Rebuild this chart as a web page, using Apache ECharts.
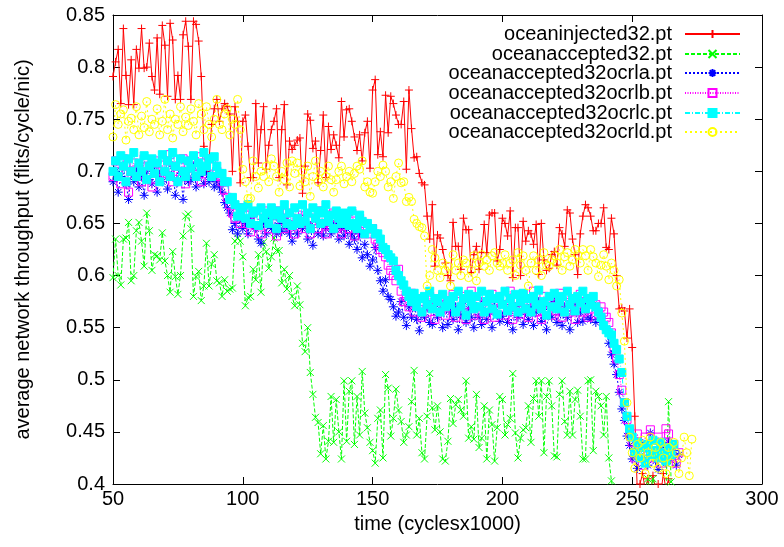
<!DOCTYPE html>
<html><head><meta charset="utf-8">
<script src="https://cdn.jsdelivr.net/npm/echarts@6/dist/echarts.min.js"></script>
<style>html,body{margin:0;padding:0;background:#fff}#c{width:784px;height:547px}</style>
</head><body><div id="c"></div>
<script>
const T0 = 50; // first sample time (x1000 cycles), one sample per 1000 cycles
const seriesNames = ['oceaninjected32.pt','oceanaccepted32.pt','oceanaccepted32ocrla.pt','oceanaccepted32ocrlb.pt','oceanaccepted32ocrlc.pt','oceanaccepted32ocrld.pt'];
const xTicks = [50,100,150,200,250,300];
const yTicks = [0.4,0.45,0.5,0.55,0.6,0.65,0.7,0.75,0.8,0.85];

const injected = [
.791,.805,.817,.765,.837,.792,.764,.807,.764,.817,
.799,.837,.799,.800,.823,.791,.778,.828,.774,.840,
.821,.772,.842,.826,.769,.792,.769,.831,.844,.820,
.769,.844,.841,.825,.791,.724,.700,.711,.745,.760,
.769,.748,.760,.765,.762,.755,.700,.762,.748,.689,
.748,.754,.724,.694,.694,.765,.708,.740,.762,.702,
.725,.740,.748,.760,.694,.740,.764,.687,.729,.721,
.725,.730,.732,.679,.705,.755,.749,.722,.729,.689,
.720,.754,.694,.743,.721,.735,.725,.713,.767,.733,
.759,.760,.748,.733,.720,.735,.710,.737,.748,.703,
.778,.788,.716,.738,.714,.773,.737,.772,.765,.754,
.745,.745,.767,.702,.778,.741,.713,.714,.698,.689,
.687,.657,.635,.668,.609,.639,.636,.625,.612,.600,
.595,.651,.628,.628,.606,.655,.644,.644,.603,.620,
.628,.606,.622,.649,.622,.658,.660,.660,.614,.625,
.655,.650,.638,.662,.598,.646,.646,.600,.652,.633,
.643,.640,.630,.649,.601,.650,.615,.605,.607,.620,
.623,.610,.646,.640,.628,.663,.660,.635,.620,.601,
.640,.657,.668,.665,.657,.643,.643,.650,.650,.665,
.627,.625,.655,.640,.600,.568,.569,.566,.540,.568,
.531,.465,.390,.400,.410,.395,.405,.390,.408,.395,
.400,.390,.410,.395,.405,.390];

const accepted = [
.598,.635,.600,.591,.635,.636,.651,.595,.600,.643,
.651,.633,.609,.660,.643,.605,.620,.619,.615,.641,
.614,.600,.584,.623,.599,.582,.600,.638,.657,.659,
.645,.580,.599,.604,.576,.590,.631,.590,.611,.620,
.595,.593,.580,.596,.585,.587,.588,.633,.636,.633,
.618,.571,.579,.580,.606,.596,.620,.584,.632,.623,
.607,.618,.636,.624,.624,.593,.606,.587,.600,.580,
.571,.590,.572,.535,.527,.550,.507,.486,.464,.459,
.429,.456,.424,.441,.484,.440,.481,.450,.424,.499,
.441,.489,.499,.438,.484,.447,.508,.468,.454,.440,
.432,.420,.463,.471,.425,.505,.492,.446,.463,.491,
.471,.460,.440,.447,.455,.479,.509,.447,.463,.430,
.424,.465,.506,.473,.452,.475,.450,.424,.422,.441,
.482,.458,.476,.481,.471,.465,.499,.444,.455,.443,
.486,.435,.444,.475,.424,.471,.457,.422,.454,.484,
.481,.447,.457,.463,.506,.449,.425,.444,.452,.454,
.475,.440,.482,.499,.465,.499,.430,.484,.499,.475,
.427,.426,.486,.499,.460,.447,.489,.447,.481,.490,
.465,.424,.424,.499,.500,.432,.489,.484,.475,.447,
.484,.425,.403,.390,.385,.395,.390,.385,.390,.385,
.395,.390,.385,.395,.392,.390,.405,.392,.405,.395,
.390,.398,.392,.390,.479,.402,.390];

const ocrla = [
.690,.700,.680,.695,.705,.688,.673,.698,.690,.700,
.685,.695,.677,.700,.692,.688,.705,.680,.697,.690,
.700,.683,.695,.705,.677,.690,.698,.673,.700,.690,
.692,.705,.685,.695,.700,.688,.698,.690,.695,.685,
.690,.685,.680,.670,.665,.660,.644,.650,.640,.655,
.645,.650,.640,.655,.660,.645,.635,.631,.650,.640,
.655,.645,.660,.640,.650,.642,.655,.645,.640,.633,
.650,.640,.655,.645,.650,.635,.648,.629,.655,.640,
.650,.638,.645,.655,.640,.648,.650,.635,.645,.638,
.645,.630,.640,.635,.625,.640,.617,.630,.620,.609,
.615,.627,.605,.595,.585,.596,.580,.577,.570,.561,
.565,.575,.560,.552,.570,.560,.575,.558,.547,.565,
.560,.570,.555,.553,.575,.560,.568,.550,.572,.553,
.565,.558,.570,.548,.562,.575,.555,.568,.560,.550,
.570,.560,.553,.575,.558,.565,.550,.570,.562,.556,
.561,.572,.555,.566,.548,.570,.560,.575,.553,.565,
.558,.570,.552,.565,.575,.556,.562,.548,.570,.560,
.575,.555,.565,.552,.570,.560,.548,.566,.572,.555,
.565,.556,.570,.560,.558,.572,.555,.565,.560,.552,
.548,.535,.524,.515,.505,.488,.472,.461,.446,.437,
.424,.432,.415,.440,.425,.436,.418,.449,.430,.422,
.414,.435,.428,.420,.440,.425,.432,.418,.428];

const ocrlb = [
.695,.710,.700,.688,.712,.705,.680,.700,.708,.695,
.703,.690,.712,.698,.705,.685,.710,.700,.693,.706,
.698,.710,.716,.690,.705,.700,.695,.712,.688,.703,
.710,.697,.705,.714,.690,.708,.700,.712,.695,.705,
.700,.695,.690,.682,.675,.668,.660,.655,.662,.650,
.665,.650,.658,.642,.660,.648,.655,.640,.662,.652,
.645,.660,.650,.638,.662,.655,.645,.660,.648,.655,
.640,.658,.650,.662,.645,.655,.640,.660,.650,.645,
.662,.650,.640,.658,.648,.660,.645,.652,.640,.655,
.650,.645,.660,.638,.648,.655,.640,.650,.645,.640,
.645,.635,.630,.625,.622,.618,.610,.605,.600,.595,
.606,.585,.575,.580,.570,.583,.565,.578,.572,.560,
.575,.565,.580,.570,.558,.576,.568,.580,.562,.573,
.570,.582,.560,.575,.565,.580,.558,.572,.585,.562,
.575,.565,.580,.558,.572,.568,.582,.560,.575,.566,
.580,.562,.572,.585,.558,.570,.578,.563,.582,.568,
.560,.575,.585,.565,.572,.558,.580,.568,.575,.562,
.578,.566,.583,.560,.572,.580,.565,.575,.558,.570,
.582,.565,.575,.560,.578,.568,.572,.563,.570,.565,
.560,.555,.545,.530,.520,.505,.490,.478,.462,.450,
.440,.425,.448,.430,.418,.445,.435,.452,.425,.438,
.445,.420,.440,.453,.448,.425,.438,.420,.430];

const ocrlc = [
.700,.710,.695,.715,.705,.690,.712,.700,.718,.695,
.708,.700,.715,.692,.705,.712,.698,.708,.690,.716,
.700,.710,.695,.718,.705,.690,.712,.700,.695,.710,
.703,.715,.695,.708,.700,.718,.705,.712,.695,.714,
.705,.698,.698,.690,.690,.673,.675,.668,.657,.660,
.665,.655,.668,.650,.660,.662,.648,.665,.655,.660,
.650,.665,.658,.645,.662,.655,.668,.650,.660,.648,
.665,.655,.650,.668,.652,.660,.645,.665,.655,.662,
.650,.660,.668,.652,.658,.645,.662,.655,.650,.660,
.655,.648,.662,.650,.645,.658,.652,.640,.650,.645,
.645,.640,.640,.635,.627,.625,.620,.617,.614,.605,
.600,.595,.591,.585,.580,.575,.583,.570,.578,.565,
.580,.572,.585,.568,.578,.575,.565,.582,.570,.576,
.572,.580,.565,.585,.570,.578,.562,.582,.575,.568,
.580,.570,.585,.565,.575,.582,.568,.578,.563,.580,
.572,.585,.566,.578,.570,.582,.565,.575,.583,.568,
.578,.565,.580,.572,.586,.568,.575,.562,.580,.570,
.583,.568,.575,.580,.565,.585,.572,.578,.566,.580,
.574,.585,.568,.578,.572,.580,.570,.565,.560,.552,
.548,.545,.543,.535,.529,.520,.507,.478,.465,.453,
.445,.430,.440,.425,.435,.420,.438,.428,.442,.432,
.425,.440,.430,.422,.435,.428,.438];

const ocrld = [
.733,.764,.745,.755,.759,.730,.748,.751,.740,.762,
.735,.753,.742,.767,.738,.750,.745,.760,.735,.748,
.769,.740,.755,.732,.750,.745,.762,.738,.752,.744,
.760,.748,.735,.765,.755,.740,.762,.745,.733,.750,
.769,.745,.740,.755,.760,.735,.750,.745,.769,.740,
.702,.690,.674,.674,.710,.695,.684,.700,.695,.705,
.690,.712,.705,.695,.680,.700,.692,.708,.685,.710,
.698,.708,.686,.700,.690,.705,.676,.695,.710,.690,
.700,.685,.695,.705,.692,.680,.692,.700,.705,.688,
.695,.700,.690,.698,.705,.702,.710,.685,.690,.680,
.679,.690,.700,.695,.706,.700,.685,.690,.674,.695,
.708,.689,.690,.671,.675,.671,.654,.650,.647,.646,
.638,.590,.600,.625,.617,.605,.598,.612,.605,.609,
.590,.620,.605,.612,.600,.615,.612,.598,.605,.619,
.595,.612,.620,.609,.615,.605,.619,.622,.612,.609,
.612,.620,.605,.612,.615,.600,.622,.610,.619,.605,
.590,.612,.619,.605,.615,.600,.622,.610,.609,.615,
.619,.612,.625,.605,.618,.622,.609,.615,.625,.620,
.612,.625,.619,.605,.625,.618,.612,.599,.610,.620,
.609,.596,.612,.605,.590,.596,.564,.537,.478,.445,
.430,.415,.438,.425,.442,.410,.430,.445,.420,.435,
.415,.440,.425,.410,.435,.420,.440,.430,.410,.425,
.445,.430,.408,.443];

const valueLists = [injected, accepted, ocrla, ocrlb, ocrlc, ocrld];
const colors = ['#ff0000','#00ff00','#0000ff','#ff00ff','#00ffff','#ffff00'];
const dashes = ['solid',[4,2],[2,2],[1,1.5],[5,2,1,2],[2,3]];
const symbols = [
  'path://M0,5L10,5M5,0L5,10',
  'path://M0,0L10,10M0,10L10,0',
  'path://M0,5L10,5M5,0L5,10M1.5,1.5L8.5,8.5M1.5,8.5L8.5,1.5',
  'rect','rect','circle'];
const symSizes = [8,7,9,8,8,8];
const fills = ['rgba(0,0,0,0)','rgba(0,0,0,0)','rgba(0,0,0,0)','rgba(0,0,0,0)','#00ffff','rgba(0,0,0,0)'];

const FONT = 'Liberation Sans, Arial, Helvetica, sans-serif';
const series = valueLists.map((vals, k) => ({
  name: seriesNames[k], type: 'line',
  data: vals.map((v, i) => [T0 + i, v]),
  showSymbol: true, showAllSymbol: true,
  symbol: symbols[k], symbolSize: symSizes[k],
  lineStyle: {color: colors[k], width: 1, type: dashes[k]},
  itemStyle: {color: fills[k], borderColor: colors[k], borderWidth: 1},
  emphasis: {disabled: true}, clip: true, z: 2 + k
}));

const legendTops = [19, 39, 58, 78, 98, 117];
const legends = seriesNames.map((n, k) => ({
  data: [n], orient: 'vertical', right: 38, top: legendTops[k], align: 'right',
  itemWidth: 55, itemHeight: 10, selectedMode: false,
  textStyle: {fontFamily: FONT, fontSize: 20, color: '#000', lineHeight: 20, padding: [0, 8, 0, 0]}
}));

const axisCommon = {
  type: 'value', min: 50, max: 300, interval: 50,
  axisLine: {show: true, onZero: false, lineStyle: {color: '#000', width: 1}},
  axisTick: {show: true, inside: true, length: 7, lineStyle: {color: '#000'}},
  splitLine: {show: false}
};
const chart = echarts.init(document.getElementById('c'), null, {renderer: 'canvas'});
chart.setOption({
  animation: false,
  backgroundColor: '#fff',
  grid: {left: 113, right: 22, top: 15, bottom: 63, containLabel: false},
  legend: legends,
  xAxis: [
    Object.assign({}, axisCommon, {position: 'bottom',
      axisLabel: {fontFamily: FONT, fontSize: 20, color: '#000', margin: 5, formatter: v => xTicks.includes(v) ? String(v) : ''},
      name: 'time (cyclesx1000)', nameLocation: 'middle', nameGap: 30,
      nameTextStyle: {fontFamily: FONT, fontSize: 20, color: '#000'}}),
    Object.assign({}, axisCommon, {position: 'top', axisLabel: {show: false}})
  ],
  yAxis: [
    Object.assign({}, axisCommon, {min: 0.4, max: 0.85, interval: 0.05, position: 'left',
      axisLabel: {fontFamily: FONT, fontSize: 20, color: '#000', margin: 8,
        formatter: v => String(Math.round(v * 100) / 100)},
      name: 'average network throughput (flits/cycle/nic)', nameLocation: 'middle', nameGap: 80,
      nameTextStyle: {fontFamily: FONT, fontSize: 20, color: '#000'}}),
    Object.assign({}, axisCommon, {min: 0.4, max: 0.85, interval: 0.05, position: 'right', axisLabel: {show: false}})
  ],
  series: series
});
</script></body></html>
